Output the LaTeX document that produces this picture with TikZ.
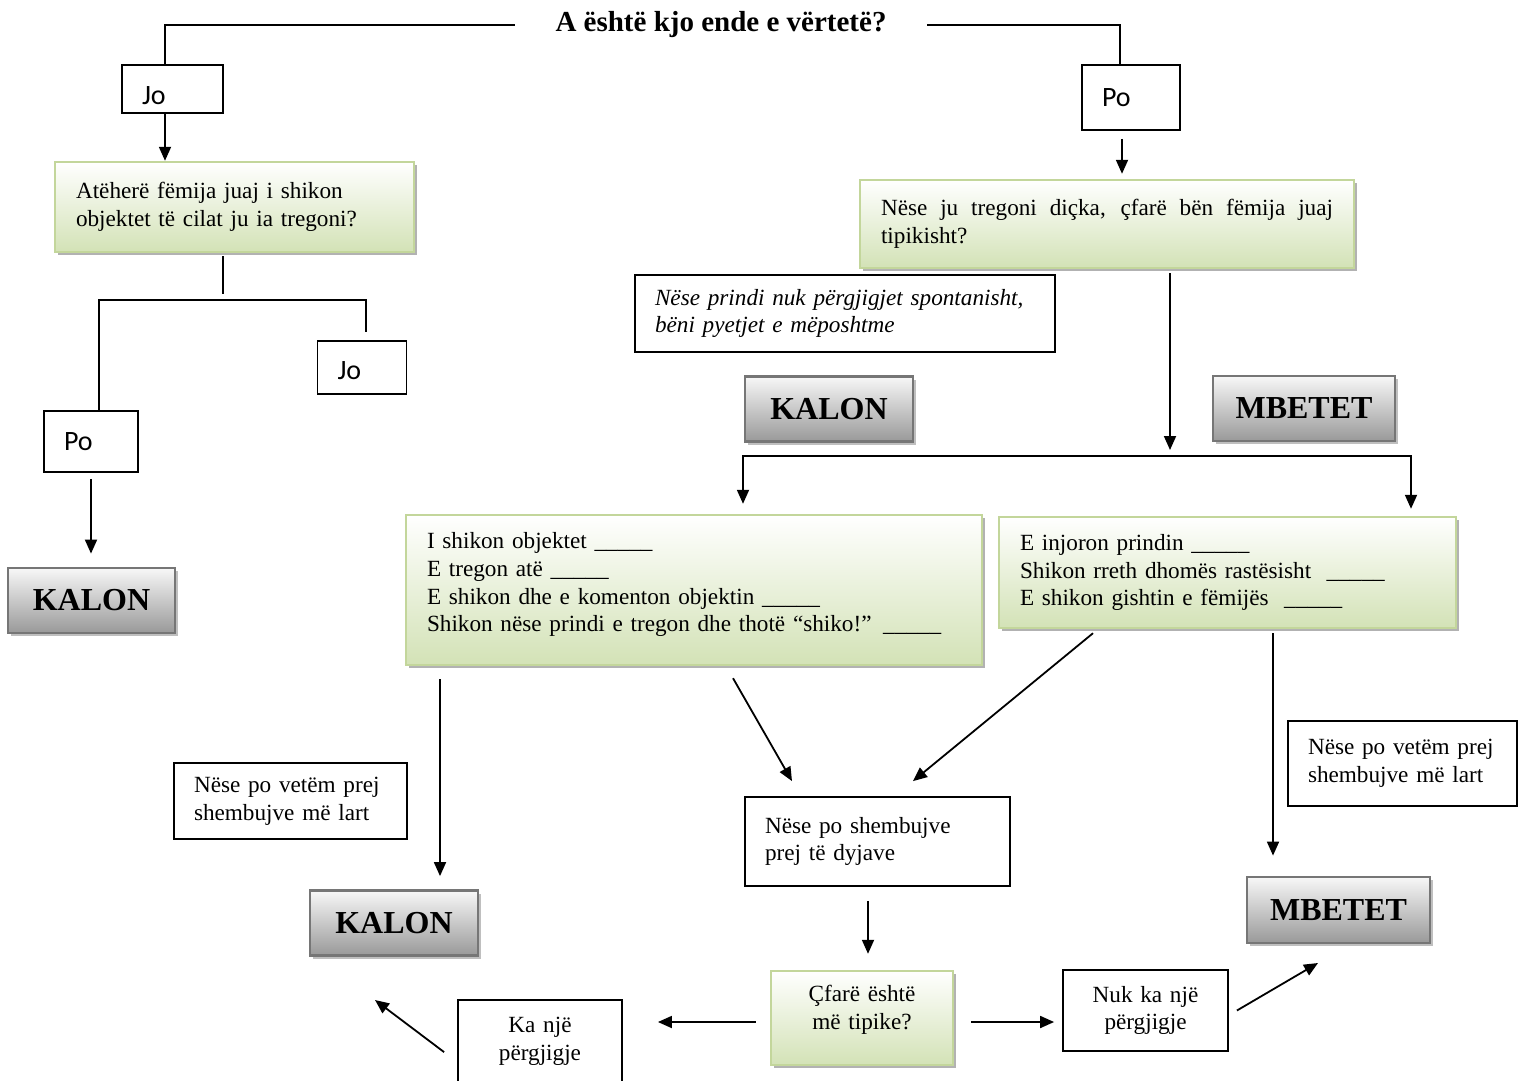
\documentclass[tikz,border=0pt]{standalone}
\usepackage{fontspec}
\setmainfont{Liberation Serif}
\newfontfamily\calibri{Carlito}
\usetikzlibrary{positioning,shadows,arrows.meta}
\definecolor{greenline}{HTML}{C3D69B}
\definecolor{greenfill}{HTML}{D3E2B6}
\definecolor{grayline}{HTML}{767676}
\definecolor{grayfill}{HTML}{999999}
\tikzset{
  txt/.style={font=\fontsize{11.6}{13.9}\selectfont},
  greenbox/.style={txt,draw=greenline,line width=1.2pt,top color=white,bottom color=greenfill,
    drop shadow={shadow xshift=1.6pt,shadow yshift=-1.6pt,fill=black!30,opacity=1},
    align=left,inner xsep=10.5pt},
  result/.style={draw=grayline,line width=1.4pt,top color=black!3,bottom color=grayfill,
    drop shadow={shadow xshift=1.6pt,shadow yshift=-1.6pt,fill=black!25,opacity=1},
    font=\bfseries\fontsize{16}{18}\selectfont,minimum height=32.5pt},
  note/.style={txt,draw,line width=0.9pt,align=left,inner xsep=10pt},
  answer/.style={draw,line width=0.9pt,font=\calibri\fontsize{14}{16}\selectfont,align=left,inner xsep=10pt}
}
\begin{document}
\begin{tikzpicture}[x=0.5pt,y=-0.5pt,>={Triangle[length=7pt,width=6pt]},line width=0.9pt]
\useasboundingbox (0,0) rectangle (1518,1080);
\node[font=\bfseries\fontsize{14.5}{17}\selectfont,inner xsep=20pt] (Q) at (721,25) {A është kjo ende e vërtetë?};
\node[answer,text width=30.5pt,minimum height=24pt,text height=16pt,text depth=0pt] (Jo1) at (172.5,89) {Jo};
\node[answer,text width=29pt,minimum height=32.5pt] (Po1) at (1131,97.5) {Po};
\node[greenbox,text width=158.5pt,minimum height=45pt] (G1) at (234.5,207)
  {Atëherë fëmija juaj i shikon\\objektet të cilat ju ia tregoni?};
\node[greenbox,align=justify,text width=226pt,minimum height=44pt] (G2) at (1107,224)
  {Nëse ju tregoni diçka, çfarë bën fëmija juaj \mbox{tipikisht?}};
\node[answer,text width=24.5pt,minimum height=26.5pt,text height=12pt,text depth=0pt] (Jo2) at (362,367.5) {Jo};
\node[answer,text width=27pt,minimum height=30.5pt] (Po2) at (91,441.5) {Po};
\node[note,font=\itshape\fontsize{11.6}{13.9}\selectfont,text width=190pt,minimum height=38.5pt] (N1) at (845,313.5)
  {\mbox{Nëse prindi nuk përgjigjet spontanisht,}\\bëni pyetjet e mëposhtme};
\node[result,minimum width=84pt] (K1) at (829,409) {KALON};
\node[result,minimum width=91pt] (M1) at (1304,408.5) {MBETET};
\node[result,minimum width=83.5pt] (K0) at (91.5,600.5) {KALON};
\node[greenbox,text width=267pt,minimum height=75pt] (G3) at (694,590)
  {I shikon objektet \_\_\_\_\_\\E tregon atë \_\_\_\_\_\\E shikon dhe e komenton objektin \_\_\_\_\_\\\mbox{Shikon nëse prindi e tregon dhe thotë “shiko!” \_\_\_\_\_}\\[-6pt]\mbox{}};
\node[greenbox,text width=207.5pt,minimum height=55.5pt] (G4) at (1227.5,572.5)
  {E injoron prindin \_\_\_\_\_\\\mbox{Shikon rreth dhomës rastësisht \ \_\_\_\_\_}\\\mbox{E shikon gishtin e fëmijës \ \_\_\_\_\_}};
\node[note,text width=96.5pt,minimum height=38pt] (N2) at (290.5,801) {\mbox{Nëse po vetëm prej}\\\mbox{shembujve më lart}};
\node[note,text width=94.5pt,minimum height=42.5pt] (N3) at (1402.5,763.5) {\mbox{Nëse po vetëm prej}\\\mbox{shembujve më lart}};
\node[note,text width=112.5pt,minimum height=44.5pt] (N4) at (877.5,841.5) {Nëse po shembujve\\prej të dyjave};
\node[result,minimum width=84pt] (K2) at (394,923) {KALON};
\node[result,minimum width=91.5pt,minimum height=33pt] (M2) at (1338.5,910) {MBETET};
\node[greenbox,align=center,text width=70pt,minimum height=47pt] (C) at (862,1018) {Çfarë është\\më tipike?\\[-3pt]\mbox{}};
\node[note,align=center,text width=62pt,minimum height=45pt] (A1) at (540,1045) {Ka një\\përgjigje\\[-8pt]\mbox{}};
\node[note,align=center,text width=62.5pt,minimum height=40.5pt] (A2) at (1145.5,1010.5) {Nuk ka një\\përgjigje};
\coordinate (fork) at (1170,456);
\coordinate (toK) at (375,1000);
\coordinate (toM) at (1318,963);
% top of the tree
\draw (Q.west) -| ([xshift=-3.75pt]Jo1.north);
\draw (Q.east) -| ([xshift=-5.5pt]Po1.north);
\draw[->] ([xshift=-3.75pt]Jo1.south) -- ([xshift=-3.75pt]Jo1.south |- G1.north);
\draw[->,shorten <=4pt,shorten >=2.5pt] ([xshift=-4.5pt]Po1.south) -- ([xshift=-4.5pt]Po1.south |- G2.north);
% left branch
\draw ([xshift=-5.75pt,yshift=-1.5pt]G1.south) -- ++(0,38);
\draw ([xshift=4pt]Po2.north) -- ++(0,-110) -| ([xshift=2pt,yshift=4pt]Jo2.north);
\draw[->,shorten <=3pt,shorten >=6.5pt] (Po2.south) -- (Po2.south |- K0.north);
% right branch
\draw[->,shorten <=2pt,shorten >=3pt] (G2.south -| fork) -- (fork);
\draw[->,shorten >=5pt] (fork) -| ([xshift=24.5pt]G3.north);
\draw[->,shorten >=3.5pt] (fork) -| ([xshift=91.75pt]G4.north);
\draw[->,shorten <=6.5pt,shorten >=6.5pt] ([xshift=23pt]K2.north |- G3.south) -- ([xshift=23pt]K2.north);
\draw[->] ([xshift=19.5pt,yshift=-6pt]G3.south) -- ([xshift=-42.75pt,yshift=7.5pt]N4.north);
\draw[->] ([xshift=-67.25pt,yshift=-2pt]G4.south) -- ([xshift=17.75pt,yshift=7.5pt]N4.north);
\draw[->,shorten <=2pt,shorten >=10pt] ([xshift=-32.75pt]M2.north |- G4.south) -- ([xshift=-32.75pt]M2.north);
\draw[->,shorten <=7pt,shorten >=8pt] ([xshift=3pt]C.north |- N4.south) -- ([xshift=3pt]C.north);
% last question
\draw[->,shorten <=7pt,shorten >=17.5pt] ([yshift=-2pt]C.west) -- ([yshift=-2pt]C.west -| A1.east);
\draw[->,shorten <=8.5pt,shorten >=4pt] ([yshift=-2pt]C.east) -- ([yshift=-2pt]C.east -| A2.west);
\draw[->] ([xshift=-6.5pt,yshift=-26.5pt]A1.north west) -- (toK);
\draw[->] ([xshift=4pt]A2.east) -- (toM);
\end{tikzpicture}
\end{document}
